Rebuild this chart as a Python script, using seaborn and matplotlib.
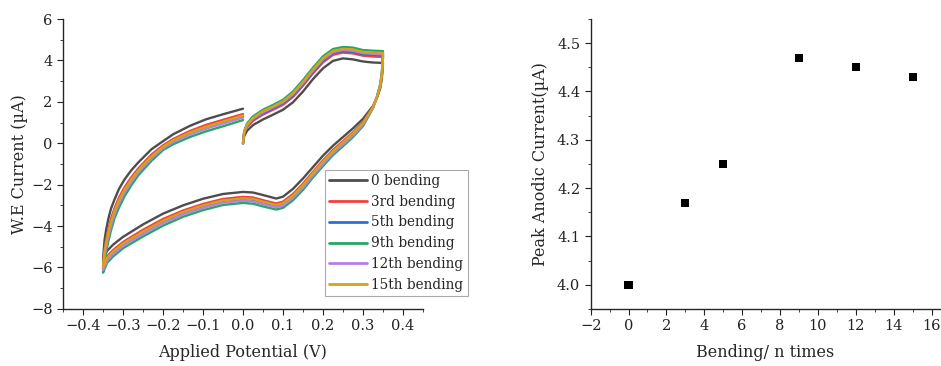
import numpy as np
import pandas as pd
import matplotlib
matplotlib.use("Agg")
import matplotlib.pyplot as plt
from matplotlib.ticker import MultipleLocator
import seaborn as sns

# ---- cyclic voltammograms: potential grids for the three scan segments ----
E_fwd = [0.0, 0.003, 0.01, 0.025, 0.05, 0.075, 0.1, 0.125, 0.15, 0.175,
         0.2, 0.225, 0.25, 0.275, 0.3, 0.325, 0.35]
E_rev = [0.349, 0.347, 0.343, 0.335, 0.325, 0.3, 0.275, 0.25, 0.225, 0.2,
         0.175, 0.15, 0.125, 0.1, 0.083, 0.05, 0.025, 0.0, -0.05, -0.1,
         -0.15, -0.2, -0.25, -0.3, -0.325, -0.34, -0.35]
E_ret = [-0.348, -0.346, -0.342, -0.337, -0.33, -0.321, -0.31, -0.296,
         -0.28, -0.262, -0.229, -0.2, -0.175, -0.133, -0.092, -0.05, 0.0]

# currents (uA) for each bending cycle
i0_fwd = [0.0, 0.35, 0.6, 0.88, 1.15, 1.38, 1.62, 1.98, 2.5, 3.1, 3.62, 3.98,
          4.1, 4.05, 3.95, 3.9, 3.88]
i0_rev = [3.55, 3.1, 2.65, 2.2, 1.8, 1.18, 0.72, 0.3, -0.12, -0.6, -1.15,
          -1.7, -2.2, -2.58, -2.67, -2.5, -2.38, -2.35, -2.45, -2.68, -3.0,
          -3.4, -3.92, -4.52, -4.9, -5.2, -5.65]
i0_ret = [-5.1, -4.64, -4.15, -3.67, -3.15, -2.7, -2.2, -1.74, -1.32, -0.93,
          -0.29, 0.1, 0.43, 0.84, 1.16, 1.4, 1.67]

i3_fwd = [0.0, 0.48, 0.78, 1.09, 1.39, 1.62, 1.86, 2.24, 2.78, 3.38, 3.91,
          4.27, 4.38, 4.34, 4.23, 4.19, 4.17]
i3_rev = [3.73, 3.24, 2.74, 2.22, 1.76, 1.02, 0.53, 0.1, -0.32, -0.83,
          -1.38, -1.95, -2.45, -2.82, -2.91, -2.75, -2.62, -2.59, -2.69,
          -2.93, -3.25, -3.66, -4.18, -4.77, -5.16, -5.46, -5.92]
i3_ret = [-5.48, -5.09, -4.64, -4.18, -3.64, -3.12, -2.62, -2.12, -1.66,
          -1.22, -0.55, -0.1, 0.2, 0.59, 0.89, 1.13, 1.41]

i5_fwd = [0.0, 0.51, 0.82, 1.15, 1.45, 1.68, 1.93, 2.31, 2.85, 3.45, 3.99,
          4.35, 4.45, 4.42, 4.3, 4.27, 4.25]
i5_rev = [3.81, 3.3, 2.78, 2.23, 1.74, 0.95, 0.45, 0.01, -0.41, -0.93,
          -1.48, -2.06, -2.56, -2.93, -3.02, -2.86, -2.73, -2.7, -2.8, -3.04,
          -3.36, -3.78, -4.3, -4.88, -5.27, -5.58, -6.04]
i5_ret = [-5.62, -5.26, -4.83, -4.37, -3.83, -3.29, -2.79, -2.27, -1.8,
          -1.33, -0.65, -0.18, 0.12, 0.49, 0.78, 1.02, 1.31]

i9_fwd = [0.0, 0.6, 0.95, 1.3, 1.62, 1.85, 2.1, 2.5, 3.05, 3.65, 4.2, 4.55,
          4.65, 4.62, 4.5, 4.47, 4.45]
i9_rev = [3.95, 3.4, 2.85, 2.25, 1.7, 0.83, 0.3, -0.14, -0.57, -1.1, -1.65,
          -2.25, -2.75, -3.12, -3.2, -3.05, -2.92, -2.88, -2.98, -3.23, -3.55,
          -3.98, -4.5, -5.07, -5.47, -5.78, -6.25]
i9_ret = [-5.9, -5.6, -5.2, -4.75, -4.2, -3.6, -3.1, -2.55, -2.05, -1.55,
          -0.85, -0.33, -0.05, 0.3, 0.58, 0.82, 1.12]

i12_fwd = [0.0, 0.54, 0.86, 1.19, 1.5, 1.73, 1.98, 2.37, 2.91, 3.51, 4.05,
           4.4, 4.51, 4.47, 4.36, 4.32, 4.3]
i12_rev = [3.87, 3.34, 2.81, 2.24, 1.72, 0.9, 0.38, -0.05, -0.48, -1.0,
           -1.55, -2.14, -2.64, -3.01, -3.09, -2.94, -2.81, -2.77, -2.87,
           -3.12, -3.44, -3.86, -4.38, -4.96, -5.36, -5.66, -6.13]
i12_ret = [-5.72, -5.39, -4.97, -4.51, -3.97, -3.4, -2.9, -2.37, -1.89,
           -1.41, -0.73, -0.24, 0.06, 0.42, 0.71, 0.95, 1.24]

i15_fwd = [0.0, 0.56, 0.89, 1.23, 1.55, 1.78, 2.02, 2.42, 2.96, 3.56, 4.11,
           4.46, 4.56, 4.53, 4.41, 4.38, 4.36]
i15_rev = [3.78, 3.27, 2.77, 2.23, 1.74, 0.98, 0.48, 0.05, -0.38, -0.89,
           -1.44, -2.02, -2.52, -2.89, -2.98, -2.82, -2.69, -2.66, -2.76,
           -3.0, -3.32, -3.74, -4.26, -4.84, -5.23, -5.54, -6.0]
i15_ret = [-5.58, -5.22, -4.78, -4.32, -3.78, -3.24, -2.74, -2.23, -1.76,
           -1.3, -0.63, -0.16, 0.14, 0.52, 0.81, 1.05, 1.34]

cycle_labels = ["0 bending", "3rd bending", "5th bending", "9th bending",
                "12th bending", "15th bending"]
cycle_colors = ["#4d4d4d", "#f2403c", "#2a6fdc", "#25a865", "#b67fe3",
                "#d6a217"]
cycle_currents = [
    (i0_fwd, i0_rev, i0_ret),
    (i3_fwd, i3_rev, i3_ret),
    (i5_fwd, i5_rev, i5_ret),
    (i9_fwd, i9_rev, i9_ret),
    (i12_fwd, i12_rev, i12_ret),
    (i15_fwd, i15_rev, i15_ret),
]

# ---- peak anodic current vs number of bendings ----
bending_n = [0, 3, 5, 9, 12, 15]
peak_current = [4.00, 4.17, 4.25, 4.47, 4.45, 4.43]

# build a long table of all voltammograms, keeping scan order
rows = []
E_all = E_fwd + E_rev + E_ret
for label, (f, r, t) in zip(cycle_labels, cycle_currents):
    cur = f + r + t
    for k, (e, i) in enumerate(zip(E_all, cur)):
        rows.append({"cycle": label, "step": k, "E": e, "I": i})
cv = pd.DataFrame(rows)
peaks = pd.DataFrame({"n": bending_n, "Ip": peak_current})

sns.set_style("ticks")
plt.rcParams["font.family"] = ["DejaVu Serif"]
plt.rcParams["axes.linewidth"] = 1.0
plt.rcParams["xtick.major.size"] = 4
plt.rcParams["ytick.major.size"] = 4
plt.rcParams["xtick.minor.size"] = 2.5
plt.rcParams["ytick.minor.size"] = 2.5
plt.rcParams["xtick.color"] = "#222222"
plt.rcParams["ytick.color"] = "#222222"
plt.rcParams["lines.solid_joinstyle"] = "round"

fig = plt.figure(figsize=(9.41, 3.66), dpi=100)
ax1 = fig.add_axes([0.067, 0.156, 0.3825, 0.792])
ax2 = fig.add_axes([0.6277, 0.156, 0.3713, 0.792])

sns.lineplot(data=cv, x="E", y="I", hue="cycle", hue_order=cycle_labels,
             palette=cycle_colors, sort=False, estimator=None, units="cycle",
             linewidth=1.7, ax=ax1, legend=True)
ax1.set_xlim(-0.45, 0.45)
ax1.set_ylim(-8, 6)
ax1.xaxis.set_major_locator(MultipleLocator(0.1))
ax1.xaxis.set_minor_locator(MultipleLocator(0.05))
ax1.yaxis.set_major_locator(MultipleLocator(2))
ax1.yaxis.set_minor_locator(MultipleLocator(1))
ax1.set_xlabel("Applied Potential (V)", fontsize=11.5, labelpad=8)
ax1.set_ylabel("W.E Current (µA)", fontsize=11.5, labelpad=2)
ax1.tick_params(labelsize=10.5)
leg = ax1.legend(loc="upper left", bbox_to_anchor=(0.728, 0.48),
                 borderaxespad=0, fontsize=9.8, frameon=True, fancybox=False,
                 handlelength=2.8, handletextpad=0.3, labelspacing=0.5,
                 borderpad=0.3, edgecolor="#aaaaaa", framealpha=1)
leg.get_frame().set_linewidth(0.8)
for h in leg.get_lines():
    h.set_linewidth(2.0)

sns.scatterplot(data=peaks, x="n", y="Ip", marker="s", color="black", s=34,
                edgecolor="none", ax=ax2)
ax2.set_xlim(-2, 16.45)
ax2.set_ylim(3.95, 4.55)
ax2.xaxis.set_major_locator(MultipleLocator(2))
ax2.xaxis.set_minor_locator(MultipleLocator(1))
ax2.yaxis.set_major_locator(MultipleLocator(0.1))
ax2.yaxis.set_minor_locator(MultipleLocator(0.05))
ax2.set_xlabel("Bending/ n times", fontsize=11.5, labelpad=8)
ax2.set_ylabel("Peak Anodic Current(µA)", fontsize=11.5, labelpad=6)
ax2.tick_params(labelsize=10.5)

for ax in (ax1, ax2):
    sns.despine(ax=ax)
    ax.tick_params(which="both", direction="out")

fig.savefig("out.png", dpi=100)
